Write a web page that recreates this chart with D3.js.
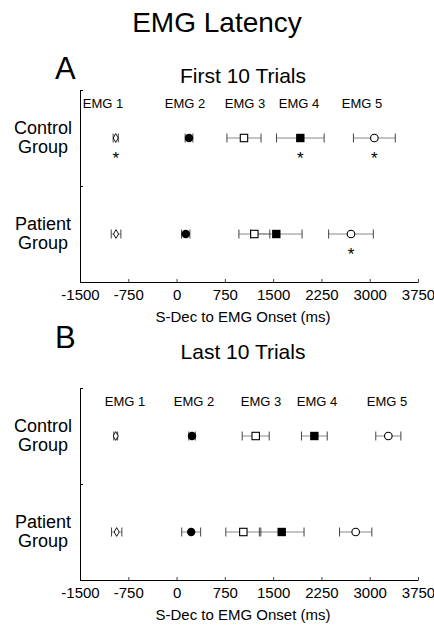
<!DOCTYPE html>
<html><head><meta charset="utf-8">
<script src="https://cdn.jsdelivr.net/npm/d3@7"></script>
<style>body{margin:0;background:#fff}svg{display:block}text{font-family:"Liberation Sans",Arial,sans-serif;fill:#000}</style>
</head><body>
<script>
const emgLabels = ["EMG 1","EMG 2","EMG 3","EMG 4","EMG 5"];
const markerTypes = ["diamond","dot","square","filledSquare","circle"];
const groups = [["Control","Group"],["Patient","Group"]];
const xTicks = [-1500,-750,0,750,1500,2250,3000,3750];
const labelPosFirst = [-1143, 131, 1063, 1902, 2880];
const labelPosLast = [-800, 271, 1311, 2181, 3269];
const firstControlMean = [-945, 193, 1047, 1922, 3072];
const firstControlErr  = [40, 60, 265, 370, 325];
const firstPatientMean = [-940, 142, 1208, 1549, 2709];
const firstPatientErr  = [75, 65, 240, 400, 347];
const lastControlMean  = [-945, 240, 1229, 2140, 3289];
const lastControlErr   = [30, 50, 210, 200, 195];
const lastPatientMean  = [-930, 227, 1037, 1633, 2782];
const lastPatientErr   = [80, 147, 272, 347, 251];
const firstControlSig  = [true, false, false, true, true];
const firstPatientSig  = [false, false, false, false, true];
const lastControlSig   = [false, false, false, false, false];
const lastPatientSig   = [false, false, false, false, false];

const W = 434, H = 630;
const svg = d3.select("body").append("svg").attr("width", W).attr("height", H);

svg.append("text").attr("x", 217).attr("y", 32).attr("text-anchor","middle")
  .style("font-size","28px").text("EMG Latency");

function panel(o){
  const g = svg.append("g");
  const x = d3.scaleLinear().domain([-1500,3750]).range([80,418]);
  const y = d3.scaleBand().domain(["Control Group","Patient Group"]).range([o.top, o.bottom]);
  g.append("text").attr("x", 55).attr("y", o.letterY).style("font-size","31px").text(o.letter);
  g.append("text").attr("x", 243).attr("y", o.titleY).attr("text-anchor","middle")
    .style("font-size","21px").text(o.title);
  const xa = d3.axisBottom(x).tickValues(xTicks).tickSize(-3).tickSizeOuter(0).tickPadding(7).tickFormat(d=>String(d));
  const gx = g.append("g").attr("transform",`translate(0,${o.bottom})`).call(xa);
  gx.select(".domain").attr("stroke","#000");
  gx.selectAll(".tick line").attr("stroke","#444");
  gx.selectAll("text").style("font-size","15px").style("font-family","Liberation Sans, Arial, sans-serif");
  const ya = d3.axisLeft(d3.scaleLinear().domain([0,2]).range([o.bottom,o.top])).tickValues([0,1,2]).tickSize(-3).tickFormat("");
  const gy = g.append("g").attr("transform",`translate(80,0)`).call(ya);
  gy.select(".domain").attr("stroke","#000");
  g.append("text").attr("x", 243).attr("y", o.bottom+40).attr("text-anchor","middle")
    .style("font-size","15px").text("S-Dec to EMG Onset (ms)");
  const yc = n => y(n) + y.bandwidth()/2;
  groups.forEach(gr => {
    const name = gr.join(" ");
    const t = g.append("text").attr("x", 43).attr("y", yc(name) - 4).attr("text-anchor","middle").style("font-size","18px");
    t.append("tspan").attr("x",43).text(gr[0]);
    t.append("tspan").attr("x",43).attr("dy",19).text(gr[1]);
  });
  g.selectAll(".emgl").data(emgLabels).join("text").attr("x",(d,i)=>x(o.labelPos[i])).attr("y",o.top+18)
    .attr("text-anchor","middle").style("font-size","13px").text(d=>d);
  o.series.forEach(s => {
    const cy = yc(s.group);
    const data = s.mean.map((m,i)=>({m, e:s.err[i], type:markerTypes[i], sig:s.sig[i]}));
    const sg = g.append("g");
    sg.selectAll(".eb").data(data).join("line").attr("x1",d=>x(d.m-d.e)).attr("x2",d=>x(d.m+d.e))
      .attr("y1",cy).attr("y2",cy).attr("stroke","#888").attr("stroke-width",1);
    sg.selectAll(".capl").data(data).join("line").attr("x1",d=>x(d.m-d.e)).attr("x2",d=>x(d.m-d.e))
      .attr("y1",cy-4.5).attr("y2",cy+4.5).attr("stroke","#444").attr("stroke-width",1);
    sg.selectAll(".capr").data(data).join("line").attr("x1",d=>x(d.m+d.e)).attr("x2",d=>x(d.m+d.e))
      .attr("y1",cy-4.5).attr("y2",cy+4.5).attr("stroke","#444").attr("stroke-width",1);
    data.forEach(d => {
      const cx = x(d.m);
      if (d.type==="diamond") {
        sg.append("path").attr("d", d3.symbol(d3.symbolDiamond, 22)()).attr("transform",`translate(${cx},${cy})`)
          .attr("fill","#fff").attr("stroke","#000").attr("stroke-width",0.9);
      } else if (d.type==="dot") {
        sg.append("circle").attr("cx",cx).attr("cy",cy).attr("r",4.2).attr("fill","#000");
      } else if (d.type==="square") {
        sg.append("rect").attr("x",cx-3.7).attr("y",cy-3.7).attr("width",7.4).attr("height",7.4)
          .attr("fill","#fff").attr("stroke","#000").attr("stroke-width",1.1);
      } else if (d.type==="filledSquare") {
        sg.append("rect").attr("x",cx-4.2).attr("y",cy-4.2).attr("width",8.4).attr("height",8.4).attr("fill","#000");
      } else {
        sg.append("circle").attr("cx",cx).attr("cy",cy).attr("r",3.8).attr("fill","#fff").attr("stroke","#000").attr("stroke-width",1.1);
      }
      if (d.sig) {
        sg.append("text").attr("x",cx).attr("y",cy+26).attr("text-anchor","middle").style("font-size","17px").text("*");
      }
    });
  });
}

panel({letter:"A", letterY:79, title:"First 10 Trials", titleY:83, top:90, bottom:282, labelPos:labelPosFirst,
  series:[{group:"Control Group", mean:firstControlMean, err:firstControlErr, sig:firstControlSig},
          {group:"Patient Group", mean:firstPatientMean, err:firstPatientErr, sig:firstPatientSig}]});
panel({letter:"B", letterY:348, title:"Last 10 Trials", titleY:359, top:388, bottom:580, labelPos:labelPosLast,
  series:[{group:"Control Group", mean:lastControlMean, err:lastControlErr, sig:lastControlSig},
          {group:"Patient Group", mean:lastPatientMean, err:lastPatientErr, sig:lastPatientSig}]});
</script>
</body></html>
